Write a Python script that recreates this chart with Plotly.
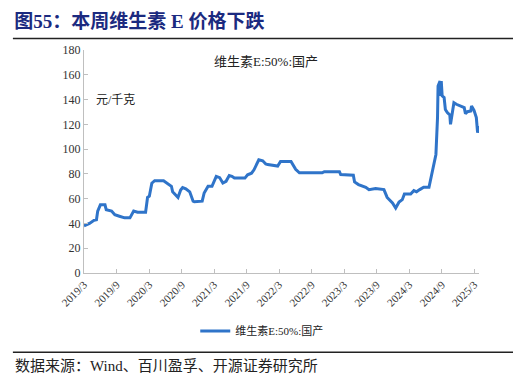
import plotly.graph_objects as go

dates = [
    "2019-03-01", "2019-04-01", "2019-04-26", "2019-05-10", "2019-05-17", "2019-06-01",
    "2019-06-27", "2019-07-04", "2019-08-03", "2019-08-21", "2019-09-16", "2019-10-15",
    "2019-11-14", "2019-12-05", "2019-12-27", "2020-02-10", "2020-02-21", "2020-03-02",
    "2020-03-16", "2020-04-01", "2020-05-21", "2020-06-09", "2020-07-04", "2020-07-11",
    "2020-07-29", "2020-08-10", "2020-08-25", "2020-09-05", "2020-09-23", "2020-10-15",
    "2020-11-03", "2020-11-10", "2020-12-24", "2021-01-04", "2021-01-26", "2021-02-17",
    "2021-03-13", "2021-04-01", "2021-04-19", "2021-05-07", "2021-05-25", "2021-06-09",
    "2021-06-23", "2021-08-21", "2021-09-05", "2021-09-27", "2021-10-11", "2021-11-07",
    "2021-11-29", "2021-12-16", "2021-12-27", "2022-02-21", "2022-03-09", "2022-05-07",
    "2022-06-02", "2022-06-23", "2022-10-29", "2022-11-10", "2023-02-03", "2023-02-10",
    "2023-04-22", "2023-04-29", "2023-05-21", "2023-07-01", "2023-07-19", "2023-08-25",
    "2023-10-11", "2023-10-29", "2023-11-28", "2023-12-16", "2024-01-04", "2024-01-22",
    "2024-02-03", "2024-03-09", "2024-03-27", "2024-04-11", "2024-04-29", "2024-05-21",
    "2024-06-20", "2024-06-27", "2024-07-11", "2024-07-29", "2024-08-07", "2024-08-10",
    "2024-08-21", "2024-08-25", "2024-08-28", "2024-09-02", "2024-09-13", "2024-09-20",
    "2024-10-01", "2024-10-15", "2024-10-19", "2024-10-26", "2024-11-07", "2024-11-21",
    "2024-12-16", "2025-01-04", "2025-01-11", "2025-01-22", "2025-02-10", "2025-02-14",
    "2025-02-28", "2025-03-13", "2025-03-20", "2025-03-27",
]
prices = [
    38, 40, 42.5, 43, 50, 55,
    55, 51, 50, 47, 45.8, 44.5,
    44.5, 50, 49, 49, 61, 62,
    72.5, 74.5, 74.5, 72.6, 70, 65.5,
    63, 61, 67, 69, 68, 65.5,
    58, 57.5, 58, 64.6, 70, 70,
    78, 77, 72.6, 74, 78.7, 78,
    76.6, 76.6, 79.3, 80.6, 83.3, 91.4,
    90.6, 88, 87.5, 86.3, 90, 90,
    83.7, 80.9, 80.9, 81.8, 81.8, 79.5,
    79, 73.5, 71.4, 69.2, 67.3, 68.2,
    67.3, 61, 56.5, 52.4, 57.3, 59.2,
    63.8, 63.8, 66.5, 65.5, 67.3, 69.2,
    69.2, 74, 83.6, 95.7, 125.4, 151,
    155, 143, 155, 143, 141.6, 132,
    129.5, 127.6, 120, 128, 137.5, 136.2,
    134.8, 133.5, 128.6, 130.2, 130.8, 134.8,
    131.3, 125.4, 113.3, 118.6,
]
tick_dates = ["2019-03-01", "2019-09-01", "2020-03-01", "2020-09-01", "2021-03-01",
              "2021-09-01", "2022-03-01", "2022-09-01", "2023-03-01", "2023-09-01",
              "2024-03-01", "2024-09-01", "2025-03-01"]
tick_labels = ["2019/3", "2019/9", "2020/3", "2020/9", "2021/3", "2021/9", "2022/3",
               "2022/9", "2023/3", "2023/9", "2024/3", "2024/9", "2025/3"]
series_name = "维生素E:50%:国产"

FONT = "Liberation Serif, Noto Sans CJK SC, serif"

fig = go.Figure()
fig.add_trace(go.Scatter(
    x=dates, y=prices, mode="lines", name=series_name,
    line=dict(color="#2F74C9", width=3),
))

fig.update_layout(
    width=521, height=374,
    margin=dict(l=76, r=50, t=42, b=109, autoexpand=False),
    paper_bgcolor="white", plot_bgcolor="white",
    font=dict(family=FONT, size=12, color="#222"),
    title=dict(
        text="<b>图55：本周维生素 E 价格下跌</b>",
        x=0.012, xanchor="left", xref="container",
        y=0.963, yanchor="middle", yref="container",
        font=dict(family="Liberation Serif, Noto Sans CJK SC", size=19, color="#1b2a80"),
    ),
    showlegend=True,
    legend=dict(
        orientation="h", x=0.45, xanchor="center", y=-0.26, yanchor="middle",
        font=dict(family=FONT, size=11, color="#222"),
        bgcolor="rgba(0,0,0,0)",
    ),
    xaxis=dict(
        type="date", range=["2019-03-01", "2025-03-28"], automargin=False,
        tickmode="array", tickvals=tick_dates, ticktext=tick_labels,
        tickangle=-45, tickfont=dict(family=FONT, size=11, color="#333"),
        showgrid=False, zeroline=False,
        showline=True, linecolor="#bfbfbf", linewidth=1,
        ticks="inside", ticklen=4, tickcolor="#bfbfbf",
    ),
    yaxis=dict(
        range=[0, 180], tickmode="linear", tick0=0, dtick=20, automargin=False,
        tickfont=dict(family=FONT, size=12, color="#333"),
        showgrid=False, zeroline=False,
        showline=True, linecolor="#bfbfbf", linewidth=1,
        ticks="inside", ticklen=4, tickcolor="#bfbfbf",
    ),
)

# header / footer rules
fig.add_shape(type="line", xref="paper", yref="paper", x0=-0.18, x1=1.112,
              y0=1.0517, y1=1.0517, line=dict(color="#222", width=1.5))
fig.add_shape(type="line", xref="paper", yref="paper", x0=-0.18, x1=1.112,
              y0=-0.355, y1=-0.355, line=dict(color="#222", width=1.5))

fig.add_annotation(text=series_name, xref="paper", yref="paper", x=0.46, y=0.947,
                   xanchor="center", yanchor="middle", showarrow=False,
                   font=dict(family=FONT, size=13, color="#222"))
fig.add_annotation(text="元/千克", xref="paper", yref="paper", x=0.025, y=0.778,
                   xanchor="left", yanchor="middle", showarrow=False,
                   font=dict(family=FONT, size=12, color="#222"))
fig.add_annotation(text="数据来源：Wind、百川盈孚、开源证券研究所", xref="paper", yref="paper",
                   x=-0.18, y=-0.415, xanchor="left", yanchor="middle", showarrow=False,
                   font=dict(family=FONT, size=15, color="#222"))

fig.write_html("out.html")
